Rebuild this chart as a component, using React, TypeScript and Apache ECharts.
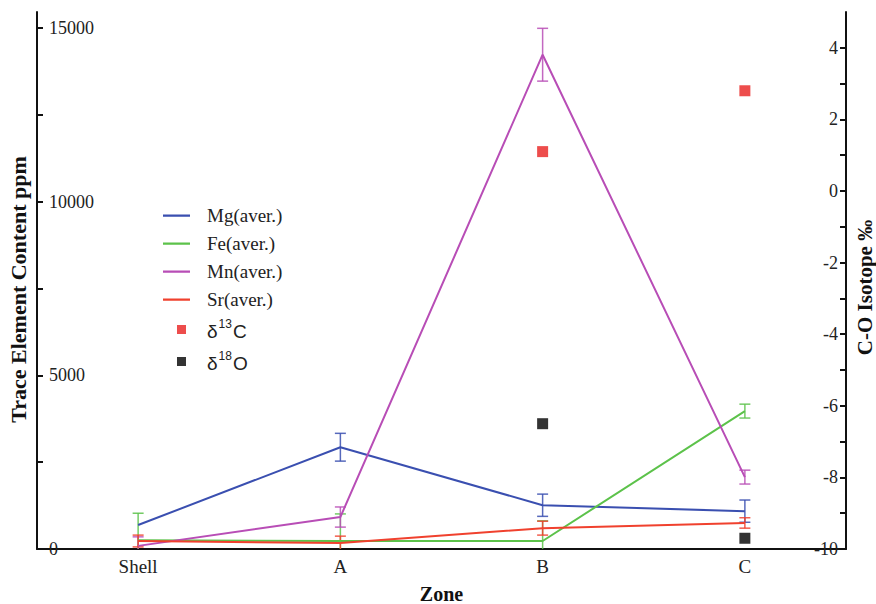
import React, { useEffect, useRef } from "react";
import * as echarts from "echarts";

const zones = ["Shell", "A", "B", "C"];
const mgAvg = [690, 2930, 1260, 1090];
const mgErr = [null, 400, 320, 320];
const feAvg = [250, 230, 230, 3970];
const feErr = [780, 780, 580, 200];
const mnAvg = [90, 920, 14230, 2070];
const mnErr = [260, 290, 760, 200];
const srAvg = [230, 170, 600, 750];
const srErr = [170, 200, 200, 150];
const d13C = [null, null, 1.1, 2.8];
const d18O = [null, null, -6.5, -9.7];

const C_MG = "#3a4fb0";
const C_FE = "#5cc24a";
const C_MN = "#b84db6";
const C_SR = "#f0412e";
const C_13 = "#e8201f";
const C_18 = "#000000";

const SERIF = "Liberation Serif";
const SANS = "Liberation Sans";

function errSeries(name: string, vals: number[], errs: (number | null)[], color: string) {
  const data = vals.map((v, i) => [i, v, errs[i] == null ? 0 : errs[i]]);
  return {
    type: "custom",
    name,
    yAxisIndex: 0,
    data,
    z: 3,
    renderItem: (params: any, api: any) => {
      const x = api.value(0);
      const v = api.value(1);
      const e = api.value(2);
      if (!e) return null;
      const hi = v + e;
      const lo = v - e;
      const pHi = api.coord([x, hi]);
      const pLo = api.coord([x, Math.max(0, lo)]);
      const cap = 5.5;
      const st = { stroke: color, lineWidth: 1.5, opacity: 0.85 };
      const children: any[] = [
        { type: "line", shape: { x1: pHi[0], y1: pHi[1], x2: pLo[0], y2: pLo[1] }, style: st },
        { type: "line", shape: { x1: pHi[0] - cap, y1: pHi[1], x2: pHi[0] + cap, y2: pHi[1] }, style: st },
      ];
      if (lo >= 0) {
        children.push({ type: "line", shape: { x1: pLo[0] - cap, y1: pLo[1], x2: pLo[0] + cap, y2: pLo[1] }, style: st });
      }
      return { type: "group", children };
    },
  };
}

function lineSeries(name: string, vals: number[], color: string) {
  return {
    type: "line",
    name,
    yAxisIndex: 0,
    data: vals,
    symbol: "none",
    lineStyle: { color, width: 2 },
    itemStyle: { color },
    z: 4,
  };
}

const lineIcon = "path://M0,0L0.01,0M0,6h27v2.2h-27zM39,14L39.01,14";
const sqIcon = "path://M0,0L0.01,0M14,2.5h9v9h-9zM39,14L39.01,14";

export default function App() {
  const ref = useRef<HTMLDivElement>(null);
  useEffect(() => {
    document.body.style.margin = "0";
    const chart = echarts.init(ref.current!, null, { renderer: "svg" });
    const legendItem = (name: string, icon: string, color: string) => ({
      name,
      icon,
      itemStyle: { color, borderWidth: 0 },
    });
    const option: any = {
      animation: false,
      backgroundColor: "#ffffff",
      grid: { left: 37, right: 30, top: 12, bottom: 55, containLabel: false, outerBoundsMode: "none" },
      legend: {
        orient: "vertical",
        left: 158,
        top: 201,
        itemWidth: 39,
        itemHeight: 14,
        itemGap: 9,
        symbolKeepAspect: false,
        textStyle: { fontFamily: SERIF, fontSize: 19, lineHeight: 19, color: "#222" },
        data: [
          legendItem("Mg(aver.)", lineIcon, C_MG),
          legendItem("Fe(aver.)", lineIcon, C_FE),
          legendItem("Mn(aver.)", lineIcon, C_MN),
          legendItem("Sr(aver.)", lineIcon, C_SR),
          legendItem("δ13C", sqIcon, C_13),
          legendItem("δ18O", sqIcon, C_18),
        ],
        formatter: (name: string) => {
          if (name === "δ13C") return "{d|δ}{s|13}{d|C}";
          if (name === "δ18O") return "{d|δ}{s|18}{d|O}";
          return name;
        },
      },
      xAxis: {
        type: "category",
        data: zones,
        name: "Zone",
        nameLocation: "middle",
        nameGap: 35,
        nameTextStyle: { fontFamily: SERIF, fontSize: 20, fontWeight: "bold", color: "#111" },
        axisLine: { lineStyle: { color: "#111", width: 2 } },
        axisTick: { alignWithLabel: true, length: 5, lineStyle: { color: "#111", width: 2 } },
        axisLabel: { fontFamily: SERIF, fontSize: 19, color: "#222", margin: 8 },
        splitLine: { show: false },
      },
      yAxis: [
        {
          type: "value",
          min: 0,
          max: 15460,
          interval: 2500,
          name: "Trace Element Content ppm",
          nameLocation: "middle",
          nameGap: 4,
          nameRotate: 90,
          nameTextStyle: { fontFamily: SERIF, fontSize: 22, fontWeight: "bold", color: "#111", padding: [0, 18, 0, 0] },
          axisLine: { show: true, lineStyle: { color: "#111", width: 2 } },
          axisTick: { show: true, inside: true, length: 6, lineStyle: { color: "#111", width: 2 } },
          axisLabel: {
            inside: true,
            fontFamily: SERIF,
            fontSize: 18,
            color: "#222",
            margin: 12,
            showMaxLabel: false,
            formatter: (v: number) => (v % 5000 === 0 ? String(v) : ""),
          },
          splitLine: { show: false },
        },
        {
          type: "value",
          min: -10,
          max: 5,
          interval: 1,
          position: "right",
          name: "C-O Isotope ‰",
          nameLocation: "middle",
          nameGap: 5,
          nameRotate: 90,
          nameTextStyle: { fontFamily: SERIF, fontSize: 21, fontWeight: "bold", color: "#111", padding: [0, 14, 0, 0] },
          axisLine: { show: true, lineStyle: { color: "#111", width: 2 } },
          axisTick: { show: true, inside: true, length: 6, lineStyle: { color: "#111", width: 2 } },
          axisLabel: {
            inside: true,
            fontFamily: SERIF,
            fontSize: 18,
            color: "#222",
            margin: 8,
            showMaxLabel: false,
            formatter: (v: number) => (v % 2 === 0 ? String(v) : ""),
          },
          splitLine: { show: false },
        },
      ],
      series: [
        lineSeries("Mg(aver.)", mgAvg, C_MG),
        lineSeries("Fe(aver.)", feAvg, C_FE),
        lineSeries("Mn(aver.)", mnAvg, C_MN),
        lineSeries("Sr(aver.)", srAvg, C_SR),
        errSeries("Mg err", mgAvg, mgErr, C_MG),
        errSeries("Fe err", feAvg, feErr, C_FE),
        errSeries("Mn err", mnAvg, mnErr, C_MN),
        errSeries("Sr err", srAvg, srErr, C_SR),
        {
          type: "scatter",
          name: "δ13C",
          yAxisIndex: 1,
          data: d13C,
          symbol: "rect",
          symbolSize: 11,
          itemStyle: { color: C_13 },
          z: 5,
        },
        {
          type: "scatter",
          name: "δ18O",
          yAxisIndex: 1,
          data: d18O,
          symbol: "rect",
          symbolSize: 11,
          itemStyle: { color: C_18 },
          z: 5,
        },
      ],
    };
    option.legend.textStyle.rich = {
      d: { fontFamily: SANS, fontSize: 19, color: "#222", lineHeight: 23, verticalAlign: "bottom" },
      s: { fontFamily: SANS, fontSize: 12, color: "#222", lineHeight: 23, verticalAlign: "top", padding: [0, 1, 0, 1] },
    };
    chart.setOption(option);
    return () => chart.dispose();
  }, []);
  return (
    <div
      ref={ref}
      style={{ position: "absolute", left: 0, top: 0, width: 876, height: 604 }}
    />
  );
}
